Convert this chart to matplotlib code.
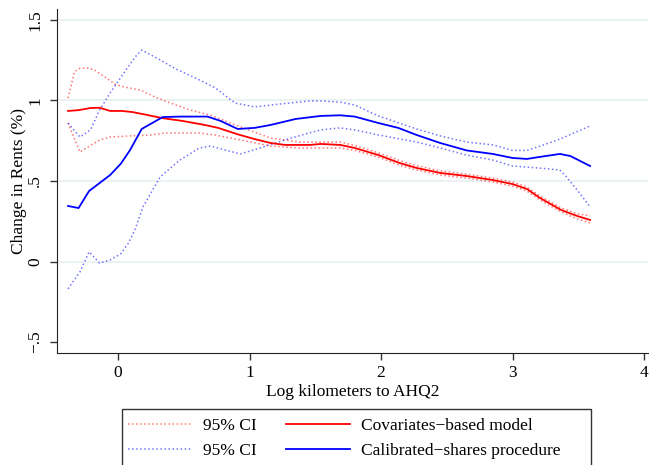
import numpy as np
import matplotlib.pyplot as plt
from matplotlib.patches import Rectangle

plt.rcParams["font.family"] = ["Liberation Serif", "DejaVu Serif"]

#-------------------------------------------------------------------------
# values

cov_x = [-0.38, -0.30, -0.21, -0.14, -0.06, 0.03, 0.11, 0.21, 0.34, 0.49, 0.66, 0.76, 0.91, 1.04,
         1.16, 1.27, 1.46, 1.54, 1.69, 1.80, 1.98, 2.14, 2.27, 2.45, 2.65, 2.85, 3.00, 3.11, 3.21,
         3.37, 3.49, 3.59]
cov_y = [0.935, 0.94, 0.953, 0.955, 0.935, 0.935, 0.928, 0.912, 0.89, 0.873, 0.848, 0.83, 0.79, 0.76,
         0.736, 0.724, 0.724, 0.730, 0.724, 0.705, 0.661, 0.612, 0.581, 0.550, 0.531, 0.506, 0.481,
         0.450, 0.394, 0.320, 0.283, 0.258]

cov_hi_x = [-0.38, -0.33, -0.29, -0.23, -0.18, -0.10, -0.02, 0.05, 0.17, 0.28, 0.40, 0.55, 0.70,
            0.93, 1.16, 1.38, 1.54, 1.69, 1.80, 1.98, 2.14, 2.27, 2.45, 2.65, 2.85, 3.00, 3.11, 3.21,
            3.37, 3.49, 3.59]
cov_hi_y = [1.015, 1.18, 1.20, 1.20, 1.19, 1.146, 1.10, 1.083, 1.065, 1.022, 0.984, 0.94, 0.91,
            0.836, 0.767, 0.742, 0.742, 0.742, 0.72, 0.675, 0.627, 0.595, 0.563, 0.543, 0.518, 0.494,
            0.462, 0.406, 0.333, 0.297, 0.283]

cov_lo_x = [-0.38, -0.29, -0.21, -0.14, -0.06, 0.09, 0.24, 0.36, 0.62, 0.74, 0.93, 1.16, 1.38,
            1.54, 1.69, 1.80, 1.98, 2.14, 2.27, 2.45, 2.65, 2.85, 3.00, 3.11, 3.21, 3.37, 3.49, 3.59]
cov_lo_y = [0.86, 0.68, 0.72, 0.755, 0.773, 0.78, 0.785, 0.798, 0.798, 0.785, 0.755, 0.717, 0.705,
            0.705, 0.705, 0.69, 0.648, 0.598, 0.568, 0.537, 0.518, 0.494, 0.468, 0.437, 0.381,
            0.308, 0.265, 0.24]

cal_x = [-0.38, -0.30, -0.22, -0.06, 0.02, 0.09, 0.18, 0.26, 0.34, 0.47, 0.59, 0.68, 0.78, 0.91,
         1.04, 1.16, 1.35, 1.54, 1.69, 1.80, 1.98, 2.13, 2.27, 2.45, 2.65, 2.85, 3.00, 3.11, 3.21,
         3.36, 3.44, 3.59]
cal_y = [0.345, 0.332, 0.438, 0.537, 0.606, 0.69, 0.823, 0.86, 0.897, 0.90, 0.90, 0.90, 0.873,
         0.823, 0.83, 0.848, 0.885, 0.904, 0.908, 0.90, 0.86, 0.83, 0.786, 0.736, 0.69, 0.668,
         0.643, 0.637, 0.65, 0.668, 0.655, 0.593]

cal_hi_x = [-0.38, -0.29, -0.21, -0.14, -0.06, 0.05, 0.13, 0.18, 0.28, 0.43, 0.62, 0.74, 0.89,
            1.04, 1.23, 1.46, 1.54, 1.69, 1.80, 1.98, 2.27, 2.45, 2.65, 2.85, 3.00, 3.11, 3.21,
            3.36, 3.59]
cal_hi_y = [0.86, 0.773, 0.817, 0.94, 1.047, 1.177, 1.27, 1.313, 1.27, 1.20, 1.127, 1.078, 0.984,
            0.96, 0.978, 0.997, 0.997, 0.99, 0.972, 0.904, 0.823, 0.78, 0.742, 0.724, 0.69, 0.69,
            0.717, 0.76, 0.842]

cal_lo_x = [-0.38, -0.29, -0.22, -0.14, -0.06, 0.02, 0.08, 0.13, 0.19, 0.32, 0.47, 0.62, 0.70,
            0.93, 1.08, 1.27, 1.46, 1.54, 1.69, 1.80, 1.98, 2.27, 2.45, 2.65, 2.85, 3.00, 3.21,
            3.36, 3.41, 3.51, 3.59]
cal_lo_y = [-0.17, -0.065, 0.06, -0.01, 0.01, 0.047, 0.115, 0.20, 0.34, 0.525, 0.63, 0.705,
            0.717, 0.668, 0.705, 0.755, 0.80, 0.817, 0.83, 0.817, 0.786, 0.742, 0.705, 0.661,
            0.63, 0.593, 0.58, 0.568, 0.525, 0.425, 0.338]

xticks = [0, 1, 2, 3, 4]
yticks = [-0.5, 0, 0.5, 1, 1.5]
ylabs = ["\u2212.5", "0", ".5", "1", "1.5"]
labels = ["95% CI", "95% CI", "Covariates\u2212based model", "Calibrated\u2212shares procedure"]

#-------------------------------------------------------------------------

W, H = 649, 465

fig = plt.figure(figsize = (W/100, H/100), dpi = 100)
ax = fig.add_axes([57/W, 1 - 353/H, 591/W, 344/H])

for yv in [0, 0.5, 1, 1.5]:
    ax.axhline(yv, color = "#e8f0f2", linewidth = 1.2, zorder = 0)

h1, = ax.plot(cov_hi_x, cov_hi_y, linestyle = ":", color = "red", alpha = 0.55, linewidth = 1.1)
ax.plot(cov_lo_x, cov_lo_y, linestyle = ":", color = "red", alpha = 0.55, linewidth = 1.1)
h2, = ax.plot(cal_hi_x, cal_hi_y, linestyle = ":", color = "blue", alpha = 0.55, linewidth = 1.1)
ax.plot(cal_lo_x, cal_lo_y, linestyle = ":", color = "blue", alpha = 0.55, linewidth = 1.1)
h3, = ax.plot(cov_x, cov_y, color = "red", linewidth = 1.3)
h4, = ax.plot(cal_x, cal_y, color = "blue", linewidth = 1.3)

ax.set_xlim([-0.464, 4.03])
ax.set_ylim([-0.568, 1.568])

ax.set_xticks(xticks)
ax.set_xticklabels([str(t) for t in xticks], fontsize = 12.5)
ax.set_yticks(yticks)
ax.set_yticklabels(ylabs, fontsize = 12.5, rotation = 90, va = "center")

ax.tick_params(axis = "both", direction = "out", length = 5, width = 1, color = "#333333")
ax.tick_params(axis = "y", pad = 5)

ax.spines["top"].set_visible(False)
ax.spines["right"].set_visible(False)
ax.spines["left"].set_color("#222222")
ax.spines["bottom"].set_color("#222222")

ax.set_xlabel("Log kilometers to AHQ2", fontsize = 12.5, labelpad = 2)
ax.set_ylabel("Change in Rents (%)", fontsize = 12.5, labelpad = 0)

# legend box runs past the bottom edge like in the original
fig.patches.append(Rectangle((122/W, -5/H), 469/W, 61/H, transform = fig.transFigure,
                             facecolor = "white", edgecolor = "#333333", linewidth = 1.0))

leg = fig.legend([h1, h2, h3, h4], labels,
                 ncol = 2, loc = "upper left", bbox_to_anchor = (128/W, 1 - 418/H),
                 fontsize = 12.5, frameon = False, borderpad = 0, borderaxespad = 0,
                 handlelength = 3.7, handletextpad = 0.6, columnspacing = 1.7,
                 labelspacing = 0.5)

plt.savefig("out.png", dpi = 100)
